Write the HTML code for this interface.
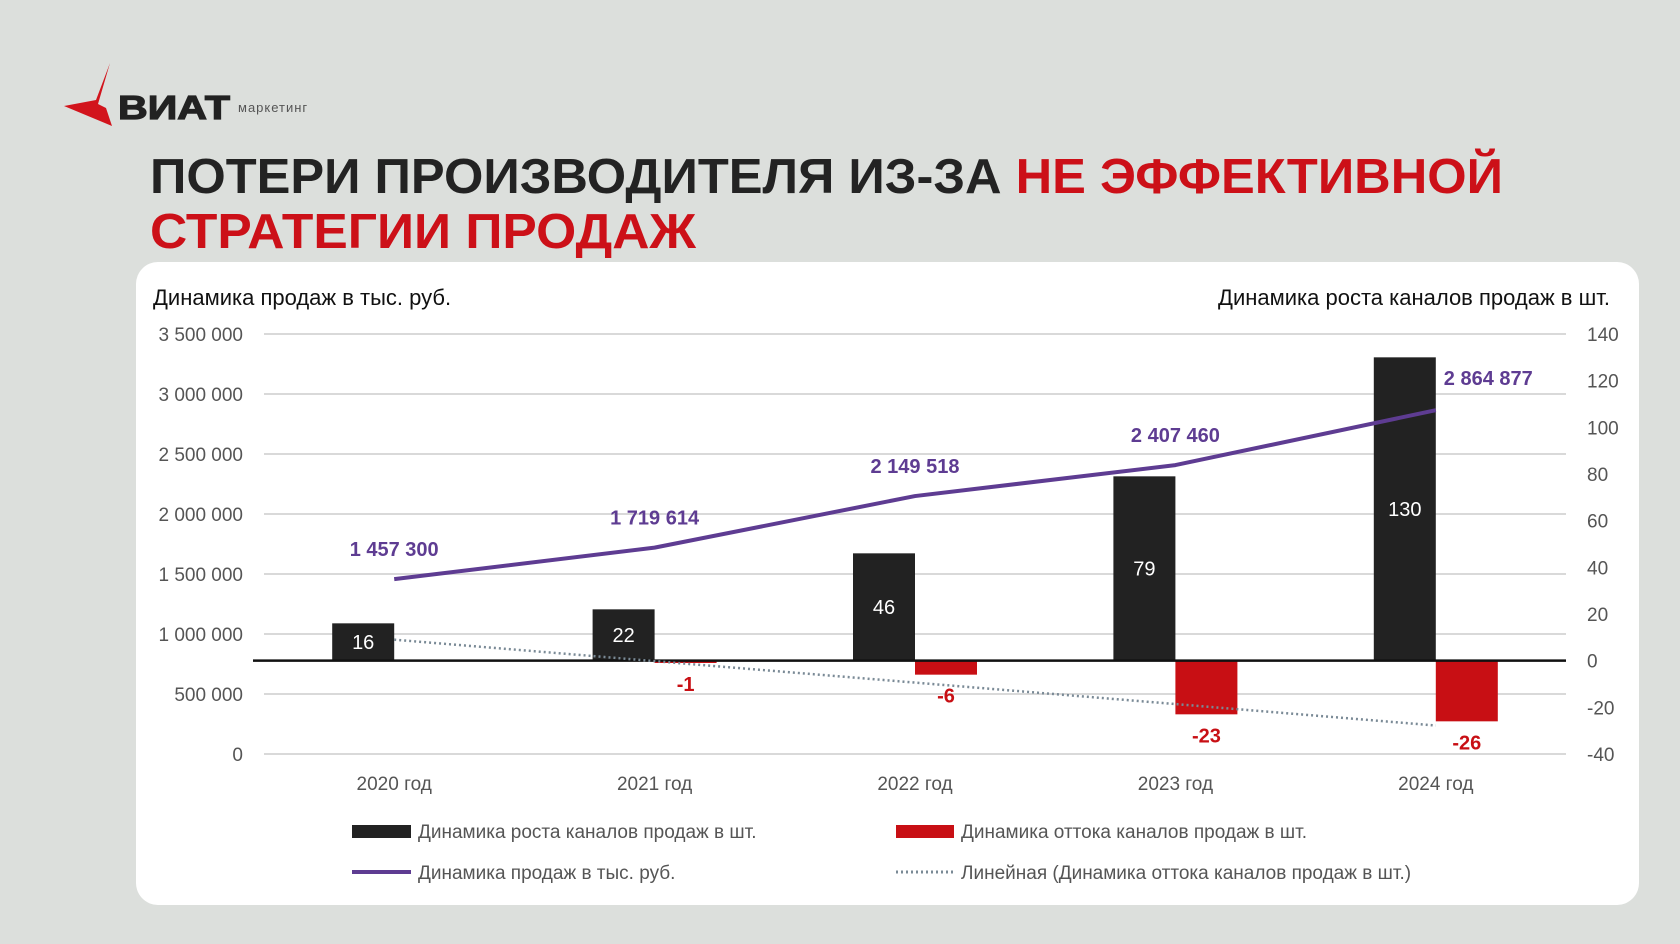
<!DOCTYPE html>
<html><head><meta charset="utf-8"><style>
html,body{margin:0;padding:0;background:#dcdfdc;}
svg{display:block;font-family:"Liberation Sans Narrow","Liberation Sans",sans-serif;}
</style></head><body>
<svg id="c" width="1680" height="944" viewBox="0 0 1680 944" xmlns="http://www.w3.org/2000/svg">
<rect x="0" y="0" width="1680" height="944" fill="#dcdfdc"/>
<g>
<polygon points="110,63 96,100 64,106 112,126 106,108 98,104" fill="#d2141c"/>
<text x="118" y="119" font-family="Liberation Sans,sans-serif" font-weight="bold" font-size="33" fill="#222" textLength="112" lengthAdjust="spacingAndGlyphs" stroke="#222" stroke-width="1.2">ВИАТ</text>
<text x="238" y="112" font-family="Liberation Sans,sans-serif" font-size="13" fill="#555" letter-spacing="1">маркетинг</text>
</g>
<text x="150" y="193" font-family="Liberation Sans,sans-serif" font-weight="bold" font-size="49" fill="#232323" textLength="1353" lengthAdjust="spacingAndGlyphs">ПОТЕРИ ПРОИЗВОДИТЕЛЯ ИЗ-ЗА <tspan fill="#cc1018">НЕ ЭФФЕКТИВНОЙ</tspan></text>
<text x="150" y="248" font-family="Liberation Sans,sans-serif" font-weight="bold" font-size="49" fill="#cc1018" textLength="546" lengthAdjust="spacingAndGlyphs">СТРАТЕГИИ ПРОДАЖ</text>
<rect x="136" y="262" width="1503" height="643" rx="22" fill="#fff"/>
<text x="153" y="305" font-size="22" fill="#111">Динамика продаж в тыс. руб.</text>
<text x="1610" y="305" font-size="22" fill="#111" text-anchor="end">Динамика роста каналов продаж в шт.</text>
<g id="plot"></g>
<g>
<g><rect x="352" y="825" width="59" height="13" fill="#222"/><text x="418" y="838" font-size="19" fill="#555">Динамика роста каналов продаж в шт.</text></g>
<g><rect x="896" y="825" width="58" height="13" fill="#c80f14"/><text x="961" y="838" font-size="19" fill="#555">Динамика оттока каналов продаж в шт.</text></g>
<g><line x1="352" y1="872" x2="411" y2="872" stroke="#5e3c92" stroke-width="4"/><text x="418" y="879" font-size="19" fill="#555">Динамика продаж в тыс. руб.</text></g>
<g><line x1="896" y1="872" x2="954" y2="872" stroke="#7a8a96" stroke-width="3" stroke-dasharray="2,3"/><text x="961" y="879" font-size="19" fill="#555">Линейная (Динамика оттока каналов продаж в шт.)</text></g>
</g>
</svg>
<script>
const categories=["2020 год","2021 год","2022 год","2023 год","2024 год"];
const growthValues=[16,22,46,79,130];
const outflowValues=[null,-1,-6,-23,-26];
const salesValues=[1457300,1719614,2149518,2407460,2864877];
const salesLabels=["1 457 300","1 719 614","2 149 518","2 407 460","2 864 877"];
const leftTicks=[0,500000,1000000,1500000,2000000,2500000,3000000,3500000];
const leftTickLabels=["0","500 000","1 000 000","1 500 000","2 000 000","2 500 000","3 000 000","3 500 000"];
const rightTicks=[-40,-20,0,20,40,60,80,100,120,140];

const NS="http://www.w3.org/2000/svg";
const plot=document.getElementById('plot');
const X0=264,X1=1566,Ytop=334,Ybot=754;
const yL=v=>Ybot-v/3500000*(Ybot-Ytop);
const yR=v=>Ybot-(v+40)/180*(Ybot-Ytop);
const step=(X1-X0)/categories.length;
const xC=i=>X0+step*(i+0.5);
const BW=62;
function mk(tag,attrs,txt){const e=document.createElementNS(NS,tag);for(const k in attrs)e.setAttribute(k,attrs[k]);if(txt!==undefined)e.textContent=txt;plot.appendChild(e);return e;}

leftTicks.forEach((t,i)=>{
  const g=mk('line',{x1:X0,x2:X1,y1:yL(t),y2:yL(t),stroke:'#d9d9d9','stroke-width':2});
  
  
  const l=mk('text',{x:243,y:yL(t)+7,'text-anchor':'end','font-size':19,fill:'#555'},leftTickLabels[i]);
  
  
});
rightTicks.forEach(t=>{
  const l=mk('text',{x:1587,y:yR(t)+7,'font-size':19,fill:'#555'},String(t));
  
  
});
categories.forEach((c,i)=>{
  const l=mk('text',{x:xC(i),y:790,'text-anchor':'middle','font-size':19,fill:'#555'},c);
  
  
});
growthValues.forEach((v,i)=>{
  const b=mk('rect',{x:xC(i)-BW,y:yR(v),width:BW,height:yR(0)-yR(v),fill:'#222'});
  
  
  const t=mk('text',{x:xC(i)-BW/2,y:(yR(v)+yR(0))/2+7,'text-anchor':'middle','font-size':20,fill:'#fff'},String(v));
  
  
});
outflowValues.forEach((v,i)=>{
  if(v===null)return;
  const b=mk('rect',{x:xC(i),y:yR(0),width:BW,height:yR(v)-yR(0),fill:'#c80f14'});
  
  
  const t=mk('text',{x:xC(i)+BW/2,y:yR(v)+28,'text-anchor':'middle','font-size':20,'font-weight':'bold',fill:'#c80f14'},String(v));
  
  
});
const zl=mk('line',{x1:253,x2:X1,y1:yR(0),y2:yR(0),stroke:'#111','stroke-width':2.5});


const pts=outflowValues.map((v,i)=>[i,v]).filter(p=>p[1]!==null);
const mx=pts.reduce((s,p)=>s+p[0],0)/pts.length,my=pts.reduce((s,p)=>s+p[1],0)/pts.length;
const slope=pts.reduce((s,p)=>s+(p[0]-mx)*(p[1]-my),0)/pts.reduce((s,p)=>s+(p[0]-mx)**2,0);
const icpt=my-slope*mx;
const last=categories.length-1;
const tl=mk('line',{x1:xC(0),y1:yR(icpt),x2:xC(last),y2:yR(icpt+slope*last),stroke:'#7a8a96','stroke-width':2.5,'stroke-dasharray':'2,3'});


const sl=mk('polyline',{points:salesValues.map((v,i)=>xC(i)+','+yL(v)).join(' '),fill:'none',stroke:'#5e3c92','stroke-width':4,'stroke-linejoin':'round'});


salesValues.forEach((v,i)=>{
  const isLast=i===last;
  const t=mk('text',{x:isLast?xC(i)+8:xC(i),y:isLast?yL(v)-25:yL(v)-23,'text-anchor':isLast?'start':'middle','font-size':20,'font-weight':'bold',fill:'#5e3c92'},salesLabels[i]);
  
  
});
</script>
</body></html>
